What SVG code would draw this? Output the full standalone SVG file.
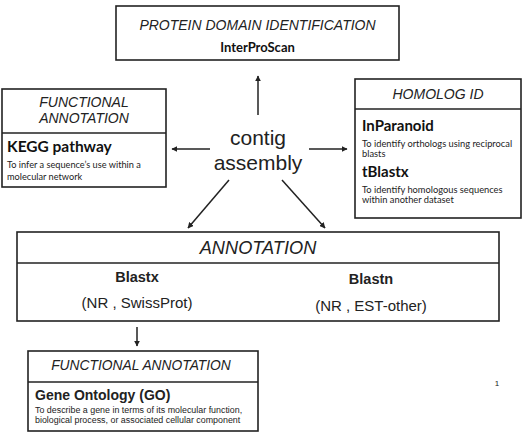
<svg xmlns="http://www.w3.org/2000/svg" width="524" height="432" viewBox="0 0 524 432">
<style>
.box{fill:#fff;stroke:#222;stroke-width:1.6}
.div{stroke:#222;stroke-width:1.4}
.h{font-family:"Liberation Sans",Arial,sans-serif;font-style:italic;fill:#222;text-anchor:middle}
.ar{font-family:"Liberation Sans",Arial,sans-serif;fill:#222}
.cb{font-family:Lato,"Open Sans",sans-serif;font-weight:bold;fill:#111}
.cd{font-family:Lato,"Open Sans",sans-serif;fill:#222}
.conn line{stroke:#222;stroke-width:1.5;marker-end:url(#ah)}
</style>
<defs>
<marker id="ah" viewBox="0 0 10 10" refX="9" refY="5" markerWidth="6" markerHeight="6" orient="auto" markerUnits="userSpaceOnUse"><path d="M0,0 L10,5 L0,10 z" fill="#222"/></marker>
</defs>
<rect width="524" height="432" fill="#fff"/>
<g id="protein-domain">
<rect class="box" x="116" y="6" width="283" height="54"/>
<text class="h" x="257.5" y="30" font-size="14">PROTEIN DOMAIN IDENTIFICATION</text>
<text class="cb" x="257.5" y="52" font-size="13" text-anchor="middle">InterProScan</text>
</g>
<g id="functional-kegg">
<rect class="box" x="2" y="89" width="164" height="98"/>
<line class="div" x1="2" y1="133" x2="166" y2="133"/>
<text class="h" x="84" y="107" font-size="14">FUNCTIONAL</text>
<text class="h" x="84" y="123" font-size="14">ANNOTATION</text>
<text class="cb" x="7" y="152" font-size="15.5">KEGG pathway</text>
<text class="cd" x="7" y="168" font-size="9.2">To infer a sequence’s use within a</text>
<text class="cd" x="7" y="179.5" font-size="9.2">molecular network</text>
</g>
<g id="homolog">
<rect class="box" x="355" y="79" width="166" height="139"/>
<line class="div" x1="355" y1="109" x2="521" y2="109"/>
<text class="h" x="438" y="99" font-size="14">HOMOLOG ID</text>
<text class="cb" x="362" y="131" font-size="15">InParanoid</text>
<text class="cd" x="362" y="147" font-size="9.3">To identify orthologs using reciprocal</text>
<text class="cd" x="362" y="157" font-size="9.3">blasts</text>
<text class="cb" x="362" y="177" font-size="15">tBlastx</text>
<text class="cd" x="362" y="193" font-size="9.3">To identify homologous sequences</text>
<text class="cd" x="362" y="203" font-size="9.3">within another dataset</text>
</g>
<g id="contig">
<text class="ar" x="258" y="145" font-size="21" text-anchor="middle">contig</text>
<text class="ar" x="258" y="170" font-size="21" text-anchor="middle">assembly</text>
</g>
<g id="annotation">
<rect class="box" x="17" y="232" width="482" height="89"/>
<line class="div" x1="17" y1="263" x2="499" y2="263"/>
<text class="h" x="258" y="254" font-size="18.2">ANNOTATION</text>
<text class="ar" x="137" y="282" font-size="14.5" font-weight="bold" text-anchor="middle">Blastx</text>
<text class="ar" x="137" y="308" font-size="15" text-anchor="middle">(NR , SwissProt)</text>
<text class="ar" x="371" y="284" font-size="14.5" font-weight="bold" text-anchor="middle">Blastn</text>
<text class="ar" x="371" y="311" font-size="15" text-anchor="middle">(NR , EST-other)</text>
</g>
<g id="functional-go">
<rect class="box" x="28" y="351" width="230" height="80"/>
<line class="div" x1="28" y1="382" x2="258" y2="382"/>
<text class="h" x="141" y="370" font-size="13.8">FUNCTIONAL ANNOTATION</text>
<text class="ar" x="35" y="400" font-size="14" font-weight="bold">Gene Ontology (GO)</text>
<text class="ar" x="35" y="413" font-size="8.9" fill="#333">To describe a gene in terms of its molecular function,</text>
<text class="ar" x="35" y="423" font-size="8.9" fill="#333">biological process, or associated cellular component</text>
</g>
<text class="ar" x="497" y="386" font-size="8" fill="#999" text-anchor="middle">1</text>
<g id="connectors" class="conn">
<line x1="258" y1="115" x2="258" y2="76"/>
<line x1="210" y1="149" x2="172" y2="149"/>
<line x1="309" y1="149" x2="347" y2="149"/>
<line x1="229" y1="180" x2="188" y2="228"/>
<line x1="282" y1="180" x2="325" y2="228"/>
<line x1="137" y1="327" x2="137" y2="346"/>
</g>
</svg>
